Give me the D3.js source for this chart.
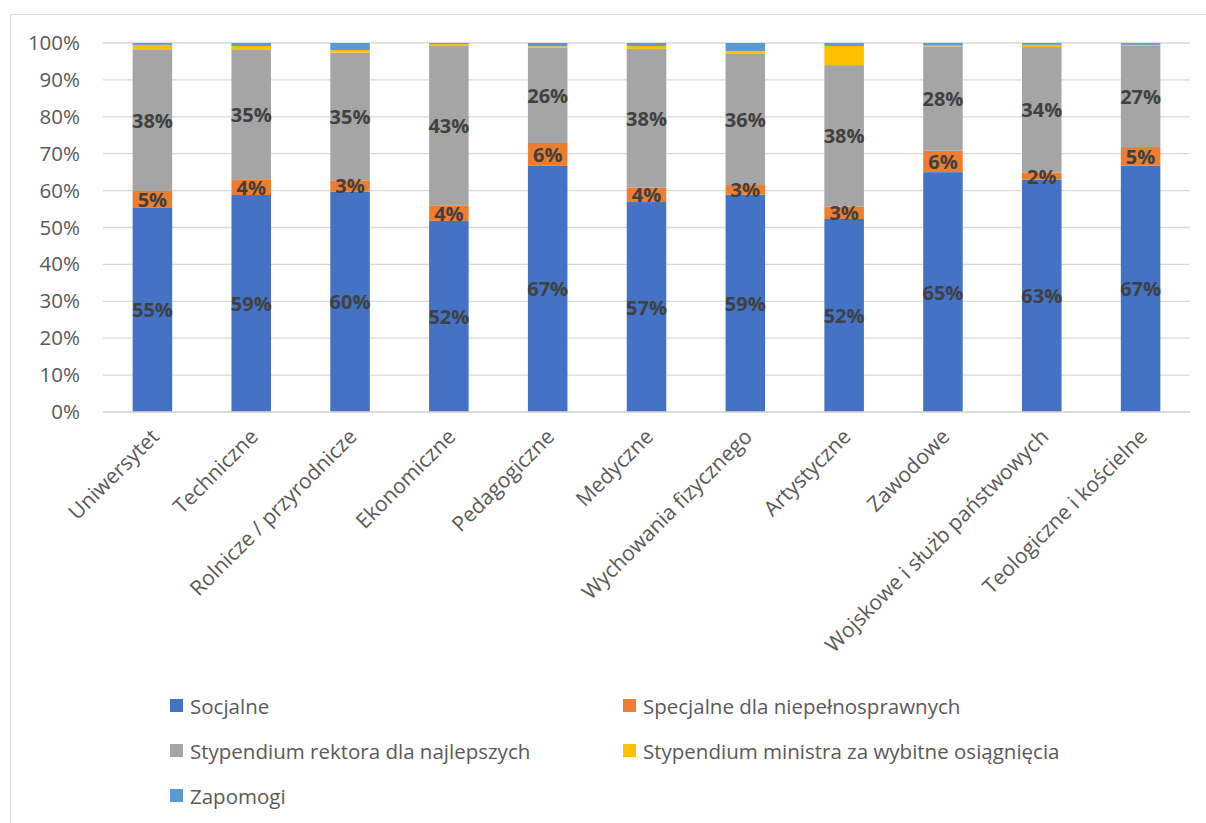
<!DOCTYPE html>
<html>
<head>
<meta charset="utf-8">
<script src="https://cdn.jsdelivr.net/npm/d3@7"></script>
<style>
  body { margin: 0; background: #fff; }
  svg { font-family: "Open Sans", sans-serif; }
</style>
</head>
<body>
<script>
// stacked 100% bars - stypendia by type of school
var categories = ["Uniwersytet", "Techniczne", "Rolnicze / przyrodnicze", "Ekonomiczne",
  "Pedagogiczne", "Medyczne", "Wychowania fizycznego", "Artystyczne", "Zawodowe",
  "Wojskowe i służb państwowych", "Teologiczne i kościelne"];

var seriesNames = ["Socjalne", "Specjalne dla niepełnosprawnych",
  "Stypendium rektora dla najlepszych", "Stypendium ministra za wybitne osiągnięcia", "Zapomogi"];

// percent values
var socjalne   = [55.3, 58.8, 59.7, 51.8, 66.7, 56.9, 58.9, 52.3, 65.0, 63.0, 66.8];
var specjalne  = [4.6, 4.1, 3.1, 4.2, 6.2, 3.9, 2.6, 3.4, 5.8, 1.9, 5.0];
var rektora    = [38.4, 35.4, 34.6, 43.2, 25.8, 37.6, 35.7, 38.3, 28.3, 34.0, 27.4];
var ministra   = [1.2, 0.9, 0.7, 0.5, 0.4, 0.8, 0.6, 5.2, 0.2, 0.6, 0.3];
var zapomogi   = [0.5, 0.8, 1.9, 0.3, 0.9, 0.8, 2.2, 0.8, 0.7, 0.5, 0.5];

var yTicks = [0, 10, 20, 30, 40, 50, 60, 70, 80, 90, 100];

var colors = ["#4472C4", "#ED7D31", "#A5A5A5", "#FFC000", "#5B9BD5"];

var w = 1206;
var h = 823;

var allSeries = [socjalne, specjalne, rektora, ministra, zapomogi];
var rows = categories.map(function(c, i) {
  var r = { cat: c };
  seriesNames.forEach(function(s, j) { r[s] = allSeries[j][i]; });
  return r;
});

var stacked = d3.stack().keys(seriesNames)(rows);

var scaleX = d3.scaleBand()
  .domain(categories)
  .range([103, 1190])
  .paddingInner(0.6)
  .paddingOuter(0.3);

var scaleY = d3.scaleLinear()
  .domain([0, 100])
  .range([412, 43]);

var svg = d3.select("body")
  .append("svg")
  .attr("width", w)
  .attr("height", h);

// chart frame
svg.append("rect")
  .attr("x", 10.5)
  .attr("y", 14.5)
  .attr("width", 1300)
  .attr("height", 900)
  .attr("fill", "none")
  .attr("stroke", "#d9d9d9");

// gridlines
svg.append("g")
  .selectAll("line")
  .data(yTicks)
  .enter()
  .append("line")
  .attr("x1", 103)
  .attr("x2", 1190)
  .attr("y1", function(d) { return scaleY(d); })
  .attr("y2", function(d) { return scaleY(d); })
  .attr("stroke", "#d9d9d9")
  .attr("stroke-width", 1.3);

// y axis labels
var yAxis = d3.axisLeft(scaleY)
  .tickValues(yTicks)
  .tickSize(0)
  .tickPadding(0)
  .tickFormat(function(d) { return d + "%"; });

var gy = svg.append("g")
  .attr("transform", "translate(80,0)")
  .call(yAxis);
gy.select(".domain").remove();
gy.selectAll("text")
  .attr("fill", "#595959")
  .style("font-size", "20.5px")
  .style("font-family", "Open Sans");

// bars
var groups = svg.append("g")
  .selectAll("g")
  .data(stacked)
  .enter()
  .append("g")
  .attr("fill", function(d, i) { return colors[i]; });

groups.selectAll("rect")
  .data(function(d) { return d; })
  .enter()
  .append("rect")
  .attr("x", function(d) { return scaleX(d.data.cat); })
  .attr("width", scaleX.bandwidth())
  .attr("y", function(d) { return scaleY(d[1]); })
  .attr("height", function(d) { return scaleY(d[0]) - scaleY(d[1]); });

// x axis
var xAxis = d3.axisBottom(scaleX).tickSize(0).tickPadding(0);
var gx = svg.append("g")
  .attr("transform", "translate(0,412)")
  .call(xAxis);
gx.select(".domain").attr("stroke", "#d9d9d9").attr("stroke-width", 1.3)
  .attr("d", "M103,0H1190");
gx.selectAll("text")
  .attr("fill", "#595959")
  .style("font-size", "21px")
  .style("font-family", "Open Sans")
  .attr("text-anchor", "end")
  .attr("dy", null)
  .attr("y", 0)
  .attr("transform", "translate(8,26) rotate(-45)");

// data labels only for first three series
var labels = svg.append("g");
stacked.slice(0, 3).forEach(function(s) {
  labels.selectAll(null)
    .data(s)
    .enter()
    .append("text")
    .text(function(d) { return Math.round(d[1] - d[0]) + "%"; })
    .attr("x", function(d) { return scaleX(d.data.cat) + scaleX.bandwidth() / 2; })
    .attr("y", function(d) { return (scaleY(d[0]) + scaleY(d[1])) / 2; })
    .attr("text-anchor", "middle")
    .attr("dominant-baseline", "central")
    .attr("fill", "#404040")
    .style("font-size", "20px")
    .style("font-weight", "bold");
});

// legend
var legendPos = [[170, 706], [623, 706], [170, 751], [623, 751], [170, 796]];
var legend = svg.append("g")
  .selectAll("g")
  .data(seriesNames)
  .enter()
  .append("g")
  .attr("transform", function(d, i) {
    return "translate(" + legendPos[i][0] + "," + legendPos[i][1] + ")";
  });
legend.append("rect")
  .attr("x", 0)
  .attr("y", -7)
  .attr("width", 13)
  .attr("height", 13)
  .attr("fill", function(d, i) { return colors[i]; });
legend.append("text")
  .attr("x", 20)
  .attr("y", 0)
  .attr("dominant-baseline", "central")
  .attr("fill", "#595959")
  .style("font-size", "20.5px")
  .text(function(d) { return d; });
</script>
</body>
</html>
